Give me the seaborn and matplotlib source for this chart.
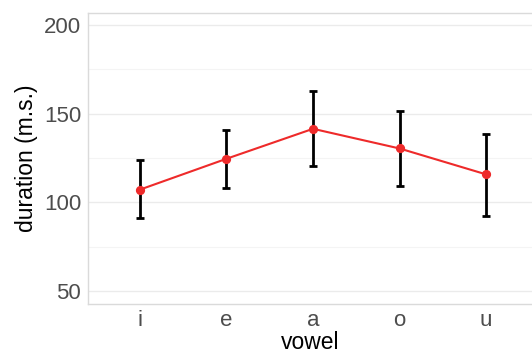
import pandas as pd
import numpy as np
import matplotlib
matplotlib.use("Agg")
import matplotlib.pyplot as plt
import seaborn as sns

# data
vowels = ["i", "e", "a", "o", "u"]
mean_dur = [107.2, 124.6, 141.5, 130.4, 115.8]
lower = [91.0, 108.1, 120.5, 109.2, 92.3]
upper = [123.7, 140.7, 162.9, 151.7, 138.7]

df = pd.DataFrame({"vowel": vowels, "duration": mean_dur, "lo": lower, "hi": upper})

sns.set_style("white")
plt.rcParams["font.family"] = ["Liberation Sans", "DejaVu Sans"]

fig = plt.figure(figsize=(5.32, 3.54), dpi=100)
ax = fig.add_axes([0.1654, 0.1412, 0.8346, 0.8221])

# ----------------- grid ------------------
ax.set_yticks([50, 100, 150, 200])
ax.set_yticks([75, 125, 175], minor=True)
ax.grid(True, which="major", color="#EBEBEB", linewidth=1.0)
ax.grid(True, which="minor", axis="y", color="#F4F4F4", linewidth=0.8)
ax.set_axisbelow(True)

# ----------------- error bars + line ------------------
pos = np.arange(len(df))
ax.errorbar(pos, df["duration"],
            yerr=[df["duration"] - df["lo"], df["hi"] - df["duration"]],
            fmt="none", ecolor="black", elinewidth=2.0, capsize=3, capthick=2.0, zorder=2)
sns.pointplot(data=df, x="vowel", y="duration", color="#EE2A2A", markers="o",
              errorbar=None, ax=ax, linewidth=1.5, markersize=5.5, zorder=3)

ax.set_ylim(42.7, 206.8)
ax.set_xlim(-0.6, 4.53)

for side in ["top", "left", "bottom"]:
    ax.spines[side].set_color("#DADADA")
    ax.spines[side].set_linewidth(1.0)
ax.spines["right"].set_visible(False)

ax.tick_params(axis="both", which="both", length=0, labelsize=16, labelcolor="#4D4D4D")
ax.tick_params(axis="y", pad=5)
ax.tick_params(axis="x", pad=4)
ax.set_xlabel("vowel", fontsize=16.5, color="black", labelpad=0)
ax.set_ylabel("duration (m.s.)", fontsize=16.5, color="black", labelpad=4)

fig.savefig("out.png", dpi=100)
